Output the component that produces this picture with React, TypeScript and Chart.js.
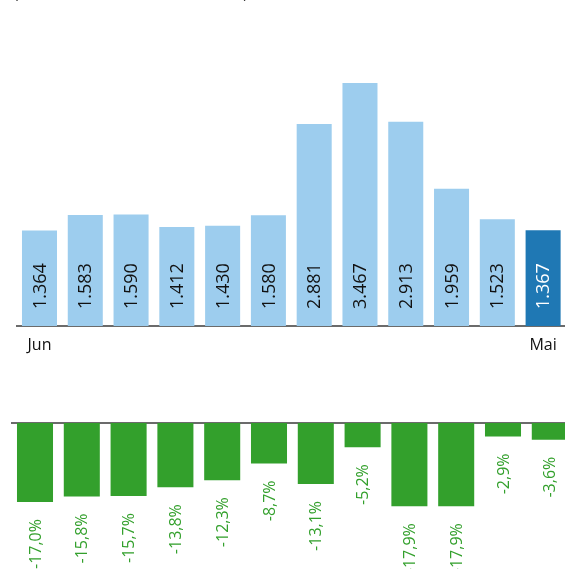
import React, { useEffect, useRef } from "react";
import { Chart, registerables } from "chart.js";

Chart.register(...registerables);

const months = ["Jun", "Jul", "Aug", "Sep", "Okt", "Nov", "Dez", "Jan", "Feb", "Mär", "Apr", "Mai"];
const shownTicks = ["Jun", "Mai"];
const counts = [1364, 1583, 1590, 1412, 1430, 1580, 2881, 3467, 2913, 1959, 1523, 1367];
const changes = [-17.0, -15.8, -15.7, -13.8, -12.3, -8.7, -13.1, -5.2, -17.9, -17.9, -2.9, -3.6];
const titleText = "(Anzahl der Neubauten im Monat)";

const LIGHT_BLUE = "#9dcdee";
const DARK_BLUE = "#1f78b4";
const GREEN = "#33a02c";
const FONT = "'Open Sans', 'DejaVu Sans', sans-serif";

function fmtThousands(v: number): string {
  const s = Math.round(v).toString();
  return s.replace(/\B(?=(\d{3})+(?!\d))/g, ".");
}
function fmtPct(v: number): string {
  return v.toFixed(1).replace(".", ",") + "%";
}

const topLabels = {
  id: "topLabels",
  afterDatasetsDraw(chart: any) {
    const ctx = chart.ctx;
    const meta = chart.getDatasetMeta(0);
    const base = chart.scales.y.getPixelForValue(0);
    ctx.save();
    ctx.font = `18px ${FONT}`;
    ctx.textBaseline = "middle";
    ctx.textAlign = "left";
    meta.data.forEach((bar: any, i: number) => {
      ctx.save();
      ctx.translate(bar.x + 1, base - 17);
      ctx.rotate(-Math.PI / 2);
      ctx.fillStyle = i === counts.length - 1 ? "#ffffff" : "#111111";
      ctx.fillText(fmtThousands(counts[i]), 0, 0);
      ctx.restore();
    });
    // partially visible title at the top edge
    let size = 18;
    ctx.font = `${size}px ${FONT}`;
    const w = ctx.measureText(titleText).width;
    size = size * (234 / w);
    ctx.font = `${size}px ${FONT}`;
    ctx.fillStyle = "#222222";
    ctx.textBaseline = "alphabetic";
    ctx.textAlign = "left";
    ctx.fillText(titleText, 14, -2);
    ctx.restore();
  },
};

const bottomLabels = {
  id: "bottomLabels",
  afterDatasetsDraw(chart: any) {
    const ctx = chart.ctx;
    const meta = chart.getDatasetMeta(0);
    ctx.save();
    ctx.font = `16px ${FONT}`;
    ctx.textBaseline = "middle";
    ctx.textAlign = "right";
    ctx.fillStyle = GREEN;
    meta.data.forEach((bar: any, i: number) => {
      ctx.save();
      ctx.translate(bar.x + 1, bar.y + 17);
      ctx.rotate(-Math.PI / 2);
      ctx.fillText(fmtPct(changes[i]), 0, 0);
      ctx.restore();
    });
    ctx.restore();
  },
};

export default function App() {
  const topRef = useRef<HTMLCanvasElement>(null);
  const botRef = useRef<HTMLCanvasElement>(null);

  useEffect(() => {
    const top = new Chart(topRef.current as HTMLCanvasElement, {
      type: "bar",
      data: {
        labels: months,
        datasets: [
          {
            data: counts,
            backgroundColor: counts.map((_, i) => (i === counts.length - 1 ? DARK_BLUE : LIGHT_BLUE)),
            borderWidth: 0,
            categoryPercentage: 1,
            barPercentage: 0.765,
          },
        ],
      },
      options: {
        responsive: false,
        animation: false,
        events: [],
        layout: { padding: { left: 16.6, right: 4, top: 45.6, bottom: 14 } },
        plugins: { legend: { display: false }, tooltip: { enabled: false }, title: { display: false } },
        scales: {
          x: {
            grid: { display: false, drawTicks: false },
            border: { display: true, color: "#6b6b6b", width: 2 },
            ticks: {
              autoSkip: false,
              maxRotation: 0,
              padding: 10,
              color: "#111111",
              font: { family: FONT, size: 16 },
              callback: (_v: any, i: number) => (shownTicks.includes(months[i]) ? months[i] : ""),
            },
            afterFit: (s: any) => {
              s.height = 30;
            },
          },
          y: { display: false, min: 0, max: 4000 },
        },
      },
      plugins: [topLabels],
    });

    const bot = new Chart(botRef.current as HTMLCanvasElement, {
      type: "bar",
      data: {
        labels: months,
        datasets: [
          {
            data: changes,
            backgroundColor: GREEN,
            borderWidth: 0,
            categoryPercentage: 1,
            barPercentage: 0.77,
          },
        ],
      },
      options: {
        responsive: false,
        animation: false,
        events: [],
        layout: { padding: { left: 11.6, right: 6.8, top: 23, bottom: 53 } },
        plugins: { legend: { display: false }, tooltip: { enabled: false } },
        scales: {
          x: {
            position: "top",
            grid: { display: false, drawTicks: false },
            border: { display: true, color: "#6b6b6b", width: 2 },
            ticks: { display: false },
            afterFit: (s: any) => {
              s.height = 0;
            },
          },
          y: { display: false, min: -20, max: 0 },
        },
      },
      plugins: [bottomLabels],
    });

    return () => {
      top.destroy();
      bot.destroy();
    };
  }, []);

  return (
    <div
      style={{
        position: "fixed",
        left: 0,
        top: 0,
        width: 565,
        height: 569,
        overflow: "hidden",
        background: "#ffffff",
      }}
    >
      <canvas ref={topRef} width={570} height={370} style={{ position: "absolute", left: 0, top: 0 }} />
      <canvas ref={botRef} width={580} height={169} style={{ position: "absolute", left: 0, top: 400 }} />
    </div>
  );
}
